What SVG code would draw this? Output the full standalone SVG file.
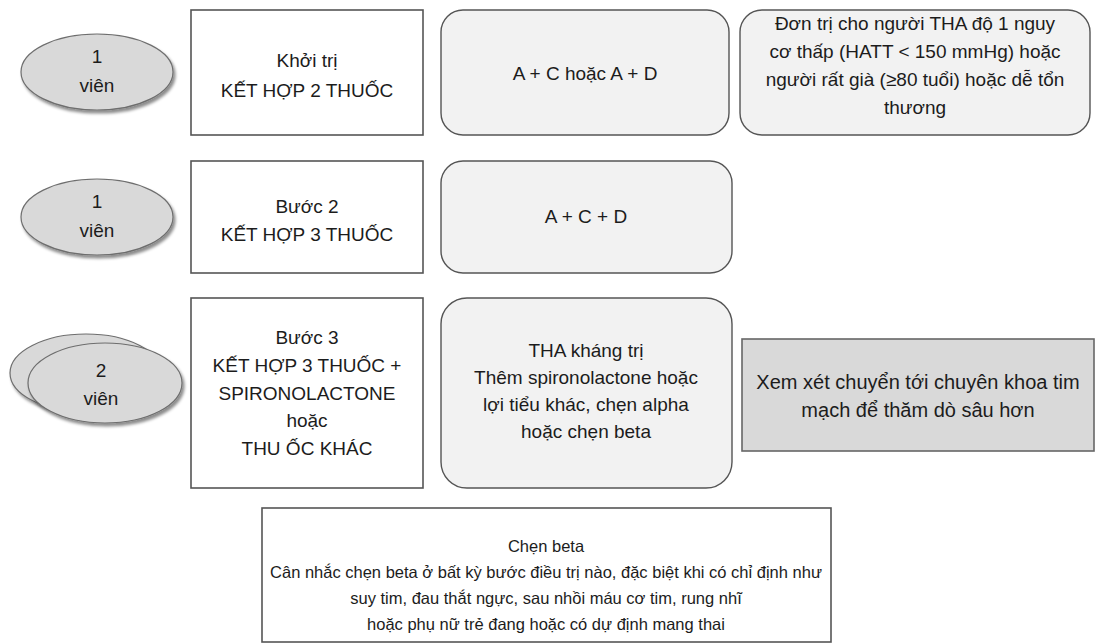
<svg xmlns="http://www.w3.org/2000/svg" width="1097" height="644" viewBox="0 0 1097 644">
  <defs>
    <filter id="pillShadow" x="-20%" y="-30%" width="140%" height="160%">
      <feDropShadow dx="2" dy="3" stdDeviation="1.6" flood-color="#000" flood-opacity="0.45"/>
    </filter>
  </defs>
  <style>
    text { font-family: "Liberation Sans", Arial, sans-serif; fill: #1c1c1c; text-anchor: middle; font-size: 19px; }
    .pill { fill: #d9d9d9; stroke: #6e6e6e; stroke-width: 1.2; filter: url(#pillShadow); }
    .step { fill: #fff; stroke: #555; stroke-width: 1.6; }
    .regimen { fill: #f2f2f2; stroke: #555; stroke-width: 1.4; }
    .refer { fill: #d9d9d9; stroke: #666; stroke-width: 1.6; }
    .note { fill: #fff; stroke: #555; stroke-width: 1.6; }
    .big { font-size: 20px; }
    .small { font-size: 16.5px; }
  </style>

  <rect width="1097" height="644" fill="#fff"/>

  <!-- connectors: none drawn, rows are laid out side by side -->
  <g id="connectors"/>

  <!-- Row 1 -->
  <g id="pill-1">
    <ellipse class="pill" cx="97" cy="72" rx="76" ry="38"/>
    <text x="97" y="63">1</text>
    <text x="97" y="92">viên</text>
  </g>
  <g id="step-1">
    <rect class="step" x="191" y="10" width="232" height="125"/>
    <text x="307" y="67">Khởi trị</text>
    <text x="307" y="97">KẾT HỢP 2 THUỐC</text>
  </g>
  <g id="regimen-1">
    <rect class="regimen" x="441" y="10" width="288" height="125" rx="22"/>
    <text x="585" y="80">A + C hoặc A + D</text>
  </g>
  <g id="mono-1">
    <rect class="regimen" x="740" y="10" width="350" height="125" rx="22"/>
    <text x="915" y="30">Đơn trị cho người THA độ 1 nguy</text>
    <text x="915" y="58">cơ thấp (HATT &lt; 150 mmHg) hoặc</text>
    <text x="915" y="86">người rất già (≥80 tuổi) hoặc dễ tổn</text>
    <text x="915" y="114">thương</text>
  </g>

  <!-- Row 2 -->
  <g id="pill-2">
    <ellipse class="pill" cx="97" cy="217" rx="76" ry="38"/>
    <text x="97" y="208">1</text>
    <text x="97" y="237">viên</text>
  </g>
  <g id="step-2">
    <rect class="step" x="191" y="161" width="232" height="112"/>
    <text x="307" y="213">Bước 2</text>
    <text x="307" y="241">KẾT HỢP 3 THUỐC</text>
  </g>
  <g id="regimen-2">
    <rect class="regimen" x="441" y="161" width="291" height="112" rx="22"/>
    <text x="586" y="223">A + C + D</text>
  </g>

  <!-- Row 3: two stacked pills -->
  <g id="pill-3">
    <ellipse class="pill" cx="86" cy="373" rx="76" ry="39"/>
    <ellipse class="pill" cx="105" cy="383" rx="77" ry="40"/>
    <text x="101" y="377">2</text>
    <text x="101" y="405">viên</text>
  </g>
  <g id="step-3">
    <rect class="step" x="191" y="298" width="232" height="190"/>
    <text x="307" y="344">Bước 3</text>
    <text x="307" y="372">KẾT HỢP 3 THUỐC +</text>
    <text x="307" y="400">SPIRONOLACTONE</text>
    <text x="307" y="427">hoặc</text>
    <text x="307" y="455">THU ỐC KHÁC</text>
  </g>
  <g id="regimen-3">
    <rect class="regimen" x="441" y="298" width="291" height="190" rx="26"/>
    <text x="586" y="357">THA kháng trị</text>
    <text x="586" y="384">Thêm spironolactone hoặc</text>
    <text x="586" y="411">lợi tiểu khác, chẹn alpha</text>
    <text x="586" y="438">hoặc chẹn beta</text>
  </g>
  <g id="referral">
    <rect class="refer" x="742" y="339" width="352" height="112"/>
    <text class="big" x="918" y="389">Xem xét chuyển tới chuyên khoa tim</text>
    <text class="big" x="918" y="417">mạch để thăm dò sâu hơn</text>
  </g>

  <!-- Beta-blocker note -->
  <g id="beta-note">
    <rect class="note" x="262" y="508" width="569" height="134"/>
    <text class="small" x="546" y="552">Chẹn beta</text>
    <text class="small" x="546" y="578">Cân nhắc chẹn beta ở bất kỳ bước điều trị nào, đặc biệt khi có chỉ định như</text>
    <text class="small" x="546" y="604">suy tim, đau thắt ngực, sau nhồi máu cơ tim, rung nhĩ</text>
    <text class="small" x="546" y="630">hoặc phụ nữ trẻ đang hoặc có dự định mang thai</text>
  </g>
</svg>
